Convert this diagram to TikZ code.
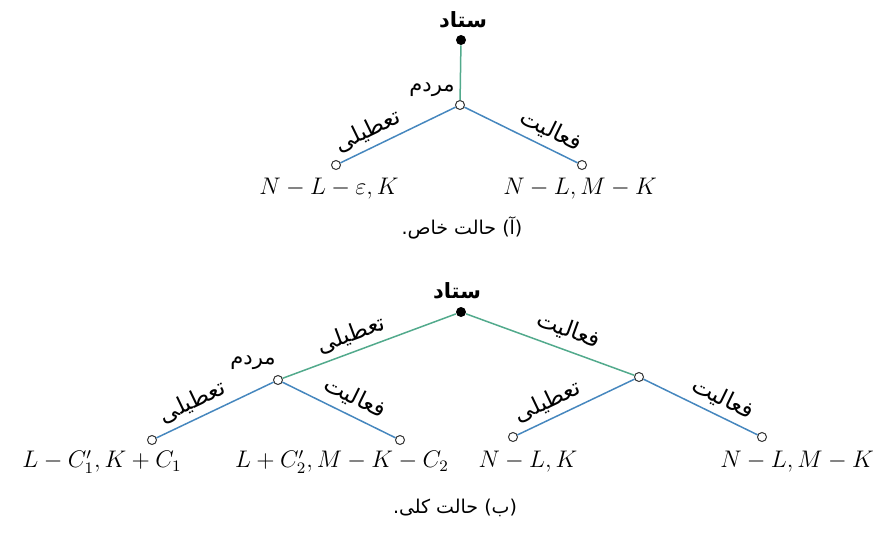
\documentclass[tikz,border=0pt]{standalone}
\usepackage{fontspec}
\usepackage{amsmath}
\usetikzlibrary{positioning}
\newfontfamily\arabicfont[Script=Arabic]{DejaVu Sans}
\TeXXeTstate=1
\newcommand{\fatext}[1]{{\arabicfont\beginR #1\endR}}
\definecolor{edgegreen}{RGB}{82,170,140}
\definecolor{edgeblue}{RGB}{70,135,190}

\begin{document}
\begin{tikzpicture}[
    x=0.5pt, y=-0.5pt,
    choicetext/.style={font=\fontsize{11.5}{13}\selectfont, text=black, inner sep=0.5pt},
    playertext/.style={font=\fontsize{10.5}{12}\selectfont, inner sep=1pt},
    headtext/.style={font=\fontsize{10.5}{12}\selectfont\bfseries, inner sep=1pt},
    payoff/.style={font=\fontsize{12}{14}\selectfont},
    captext/.style={font=\fontsize{9.5}{11}\selectfont},
    rootdot/.style={circle, fill=black, inner sep=0pt, minimum size=5pt},
    opendot/.style={circle, draw=black!80, fill=white, inner sep=0pt, minimum size=4.5pt, line width=0.5pt},
    greenedge/.style={edgegreen, line width=0.75pt},
    blueedge/.style={edgeblue, line width=0.75pt}
]
    \useasboundingbox (0,0) rectangle (885,538);

    % --- (a) special case ---
    \node[rootdot] (rootA) at (461,40) {};
    \node[opendot] (midA) at (460,105) {};
    \node[opendot] (leafA1) at (336,165) {};
    \node[opendot] (leafA2) at (582,165) {};

    \node[headtext] (rootAtxt) at (463,20) {\fatext{ستاد}};
    \node[playertext] (midAtxt) at (432,90) {\fatext{مردم}};

    \draw[greenedge] (rootA) -- (midA);
    \draw[blueedge] (midA) -- (leafA1)
        node[choicetext, sloped, above=2.5pt, pos=0.7] (choiceA1) {\fatext{تعطیلی}};
    \draw[blueedge] (midA) -- (leafA2)
        node[choicetext, sloped, above=2.5pt, pos=0.7] (choiceA2) {\fatext{فعالیت}};

    \node[payoff] (payA1) at (329,189) {$N-L-\varepsilon,K$};
    \node[payoff] (payA2) at (580,189) {$N-L,M-K$};

    \node[captext] (capA) at (462,228) {\fatext{(آ) حالت خاص.}};

    % --- (b) general case ---
    \node[rootdot] (rootB) at (461,312) {};
    \node[opendot] (leftB) at (278,380) {};
    \node[opendot] (rightB) at (639,377) {};
    \node[opendot] (leafB1) at (152,440) {};
    \node[opendot] (leafB2) at (400,440) {};
    \node[opendot] (leafB3) at (513,437) {};
    \node[opendot] (leafB4) at (762,437) {};

    \node[headtext] (rootBtxt) at (457,291) {\fatext{ستاد}};
    \node[playertext] (leftBtxt) at (253,363) {\fatext{مردم}};

    \draw[greenedge] (rootB) -- (leftB)
        node[choicetext, sloped, above=2.5pt, pos=0.57] (choiceB1) {\fatext{تعطیلی}};
    \draw[greenedge] (rootB) -- (rightB)
        node[choicetext, sloped, above=4pt, pos=0.57] (choiceB2) {\fatext{فعالیت}};
    \draw[blueedge] (leftB) -- (leafB1)
        node[choicetext, sloped, above=2.5pt, pos=0.63] (choiceB3) {\fatext{تعطیلی}};
    \draw[blueedge] (leftB) -- (leafB2)
        node[choicetext, sloped, above=3pt, pos=0.57] (choiceB4) {\fatext{فعالیت}};
    \draw[blueedge] (rightB) -- (leafB3)
        node[choicetext, sloped, above=2.5pt, pos=0.68] (choiceB5) {\fatext{تعطیلی}};
    \draw[blueedge] (rightB) -- (leafB4)
        node[choicetext, sloped, above=2.5pt, pos=0.63] (choiceB6) {\fatext{فعالیت}};

    \node[payoff] (payB1) at (102,462) {$L-C'_1,K+C_1$};
    \node[payoff] (payB2) at (342,462) {$L+C'_2,M-K-C_2$};
    \node[payoff] (payB3) at (528,462) {$N-L,K$};
    \node[payoff] (payB4) at (797,462) {$N-L,M-K$};

    \node[captext] (capB) at (455,508) {\fatext{(ب) حالت کلی.}};
\end{tikzpicture}
\end{document}
